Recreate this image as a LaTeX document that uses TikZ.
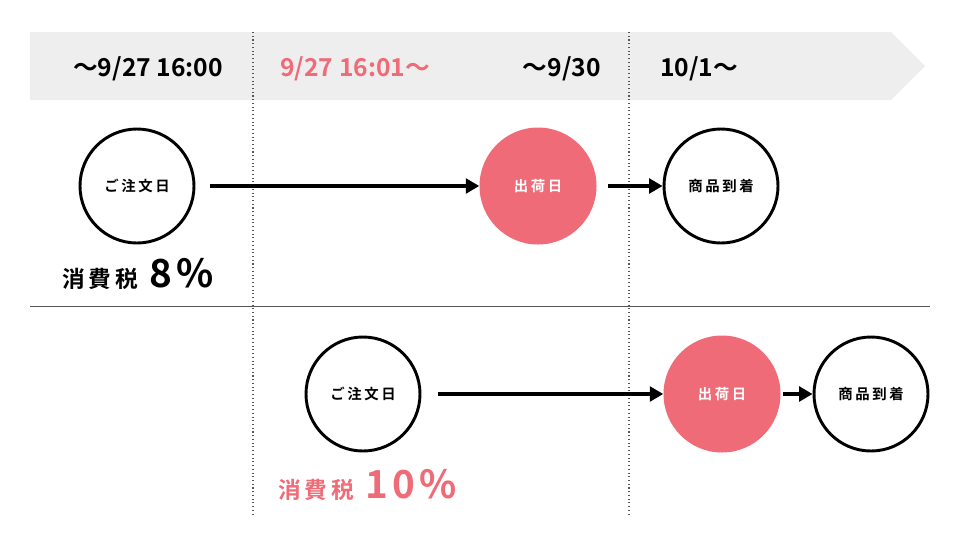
\documentclass[tikz,border=0pt]{standalone}
\usepackage{fontspec}
\setmainfont{Noto Sans CJK JP}[BoldFont={* Bold}]
\newfontfamily\jpb{Noto Sans CJK JP Bold}
\newfontfamily\jpbs{Noto Sans CJK JP Bold}[LetterSpace=18]
\newfontfamily\jpbw{Noto Sans CJK JP Bold}[LetterSpace=12]
\usetikzlibrary{arrows.meta}
\definecolor{pinkc}{HTML}{EE6B77}
\definecolor{bandc}{HTML}{EEEEEE}
\definecolor{linec}{HTML}{555555}
\tikzset{
  circ/.style={circle, draw=black, line width=2.2pt, fill=white, minimum size=114*0.75pt, inner sep=0pt, font=\jpbs\fontsize{10.8pt}{12pt}\selectfont},
  pcirc/.style={circle, fill=pinkc, text=white, minimum size=117*0.75pt, inner sep=0pt, font=\jpbs\fontsize{10.8pt}{12pt}\selectfont},
  conn/.style={line width=2.3pt, -{Triangle[length=10pt,width=11pt]}},
  hdr/.style={font=\jpb\fontsize{18.5pt}{22pt}\selectfont, inner sep=0pt},
  divl/.style={linec, line width=0.8pt, dotted},
  taxs/.style={font=\jpbs\fontsize{17pt}{20pt}\selectfont},
}
\begin{document}
\begin{tikzpicture}[x=0.75pt,y=-0.75pt]
\useasboundingbox (0,0) rectangle (960,540);
% band
\fill[bandc] (30,32) -- (891,32) -- (925,66) -- (891,100) -- (30,100) -- cycle;
% dividers
\draw[divl] (253,32) -- (253,515);
\draw[divl] (629,32) -- (629,515);
\draw[linec, line width=0.7pt] (30,306) -- (930,306);
% header texts
\node[hdr, anchor=west] (h1) at (73,69) {～9/27 16:00};
\node[hdr, anchor=west, text=pinkc] (h2) at (280,69) {9/27 16:01～};
\node[hdr, anchor=east] (h3) at (601,69) {～9/30};
\node[hdr, anchor=west] (h4) at (660,69) {10/1～};
% row 1
\node[circ] (o1) at (137,186) {ご注文日};
\node[pcirc] (s1) at (538,186) {出荷日};
\node[circ] (a1) at (721,186) {商品到着};
\draw[conn] (210,186) -- (s1.west);
\draw[conn] (608,186) -- (a1.west);
% row 2
\node[circ] (o2) at (363,394) {ご注文日};
\node[pcirc] (s2) at (722,394) {出荷日};
\node[circ] (a2) at (871,394) {商品到着};
\draw[conn] (438,394) -- (s2.west);
\draw[conn] (783,394) -- (a2.west);
% tax labels
\node[anchor=base west, inner sep=0pt] (t1) at (62,287) {{\jpbs\fontsize{17pt}{20pt}\selectfont 消費税}\hspace{8pt}{\jpbw\fontsize{29pt}{32pt}\selectfont 8\%}};
\node[anchor=base west, inner sep=0pt, text=pinkc] (t2) at (278,498) {{\jpbs\fontsize{17pt}{20pt}\selectfont 消費税}\hspace{8pt}{\jpbw\fontsize{29pt}{32pt}\selectfont 10\%}};
\end{tikzpicture}
\end{document}
